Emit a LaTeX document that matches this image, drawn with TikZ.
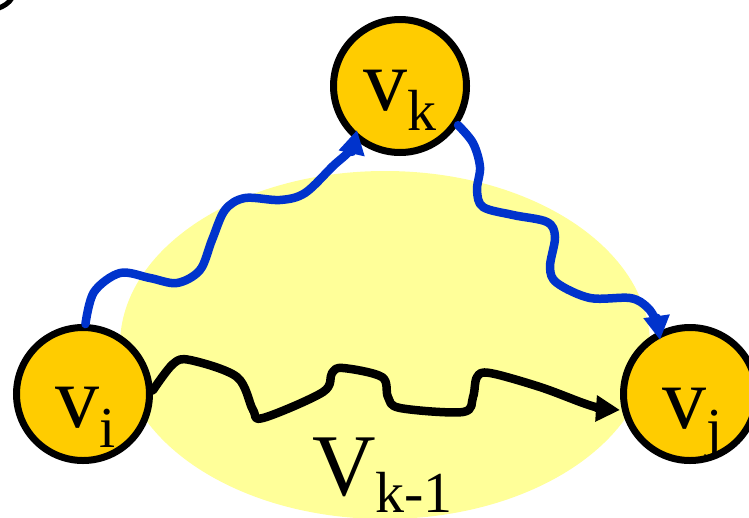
\documentclass[tikz,border=0pt]{standalone}
\usepackage{fontspec}
\setmainfont{Liberation Serif}
\usetikzlibrary{arrows.meta,calc,shapes.geometric}
\definecolor{nodeorange}{HTML}{FFCC00}
\definecolor{setyellow}{HTML}{FFFF99}
\definecolor{pathblue}{HTML}{0033CC}
\newcommand{\vlabel}[3]{{\fontsize{88}{88}\selectfont #1}\raisebox{-#3}{\fontsize{58}{58}\selectfont #2}}
\tikzset{
  vertex/.style={circle, draw=black, line width=7pt, fill=nodeorange, minimum size=133pt, inner sep=0pt},
  setregion/.style={ellipse, fill=setyellow, draw=none, minimum width=530pt, minimum height=348pt, inner sep=0pt},
  lab/.style={anchor=base west, inner sep=0pt, outer sep=0pt},
  wavy/.style={line width=8.5pt, line cap=round, line join=round, -{Triangle[length=24pt,width=25pt]}},
  bluepath/.style={wavy, draw=pathblue},
  blackpath/.style={wavy, draw=black},
}
\begin{document}
\begin{tikzpicture}[x=1pt, y=-1pt]
\useasboundingbox (0,0) rectangle (749,517);
\clip (0,0) rectangle (749,517);
% corner mark
\draw[line width=5pt] (-1,8) .. controls (4,6) and (9,3) .. (12,-2);
% set V_{k-1}
\node[setregion] (set) at (385,345) {};
\node[lab] (setlab) at (312,495) {\vlabel{V}{k-1}{17pt}};
% vertices
\node[vertex] (vi) at (83,394) {};
\node[vertex] (vk) at (400,86) {};
\node[vertex] (vj) at (690,394) {};
\node[lab] (vilab) at (55,427) {\vlabel{v}{i}{20pt}};
\node[lab] (vklab) at (363,110) {\vlabel{v}{k}{20pt}};
\node[lab] (vjlab) at (662,428) {\vlabel{v}{j}{20pt}};
% paths
\draw[bluepath] plot[smooth, tension=0.55] coordinates {(vi.88) (94,292) (120,273) (150,278) (177,283) (200,270) (212,240) (225,210) (245,198) (280,200) (305,193) (333,166) (350,150) ($(vk)+(-43,44)$)};
\draw[blackpath] plot[smooth, tension=0.55] coordinates {(vi.3) (173,364) (190,360) (237,377) (253,410) (263,418) (323,392) (332,373) (343,368) (382,377) (388,397) (400,408) (463,412) (473,397) (477,377) (490,373) (540,387) (583,403) (600,408) ($(vj)+(-70,16)$)};
\draw[bluepath] plot[smooth, tension=0.55] coordinates {(vk.-34) (473,143) (480,167) (477,190) (483,207) (513,215) (547,222) (555,237) (550,267) (557,283) (590,298) (630,298) (647,307) (656,321) ($(vj)+(-30,-54)$)};
\end{tikzpicture}
\end{document}
